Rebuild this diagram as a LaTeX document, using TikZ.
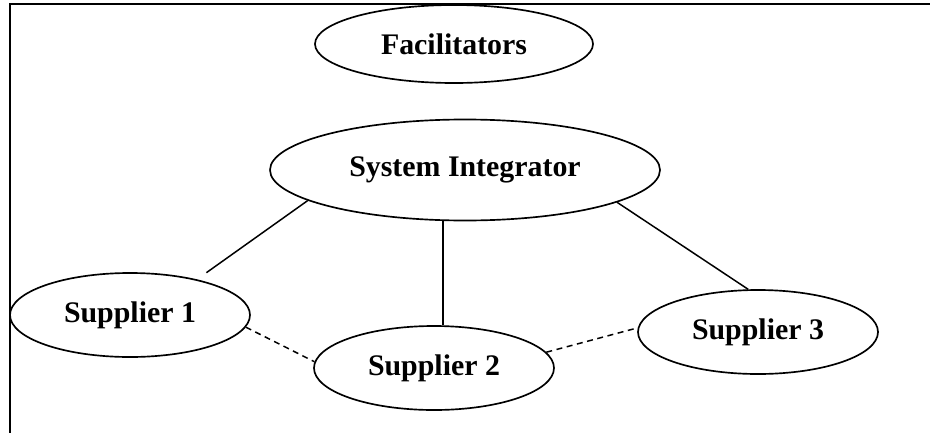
\documentclass[tikz,border=0pt]{standalone}
\usepackage{fontspec}
\setmainfont{Liberation Serif}
\usepackage{tikz}
\usetikzlibrary{shapes.geometric}

\begin{document}
\begin{tikzpicture}[
  party/.style={ellipse, draw=black, line width=0.95pt, inner sep=0pt,
                minimum width=4.8cm, minimum height=1.68cm, align=center,
                font=\fontsize{17}{20}\selectfont\bfseries},
  link/.style={-, line width=0.85pt, black},
  peer/.style={-, line width=0.85pt, black, dash pattern=on 3.4pt off 2.6pt},
  frame/.style={line width=1pt, black}
]

\useasboundingbox (0,0) rectangle (18.6,-8.66);
\draw[frame] (18.6,-0.08) -- (0.2,-0.08) -- (0.2,-8.66);

\node[party, minimum width=5.56cm, minimum height=1.56cm] (facil) at (9.08,-0.88) {Facilitators};
\node[party, minimum width=7.8cm, minimum height=2.02cm]  (integ) at (9.3,-3.4)   {System Integrator};
\node[party] (sup1) at (2.6,-6.3)   {Supplier 1};
\node[party] (sup2) at (8.68,-7.36) {Supplier 2};
\node[party] (sup3) at (15.16,-6.64) {Supplier 3};

\draw[link, shorten >=0.23cm] (integ.191) -- (sup1.28);
\draw[link] (sup2.78) -- (sup2.78 |- integ.south);
\draw[link] (integ.-12) -- (sup3.103);
\draw[peer] (sup1.-6) -- (sup2.177);
\draw[peer] (sup2.8) -- (sup3.178);

\end{tikzpicture}
\end{document}
